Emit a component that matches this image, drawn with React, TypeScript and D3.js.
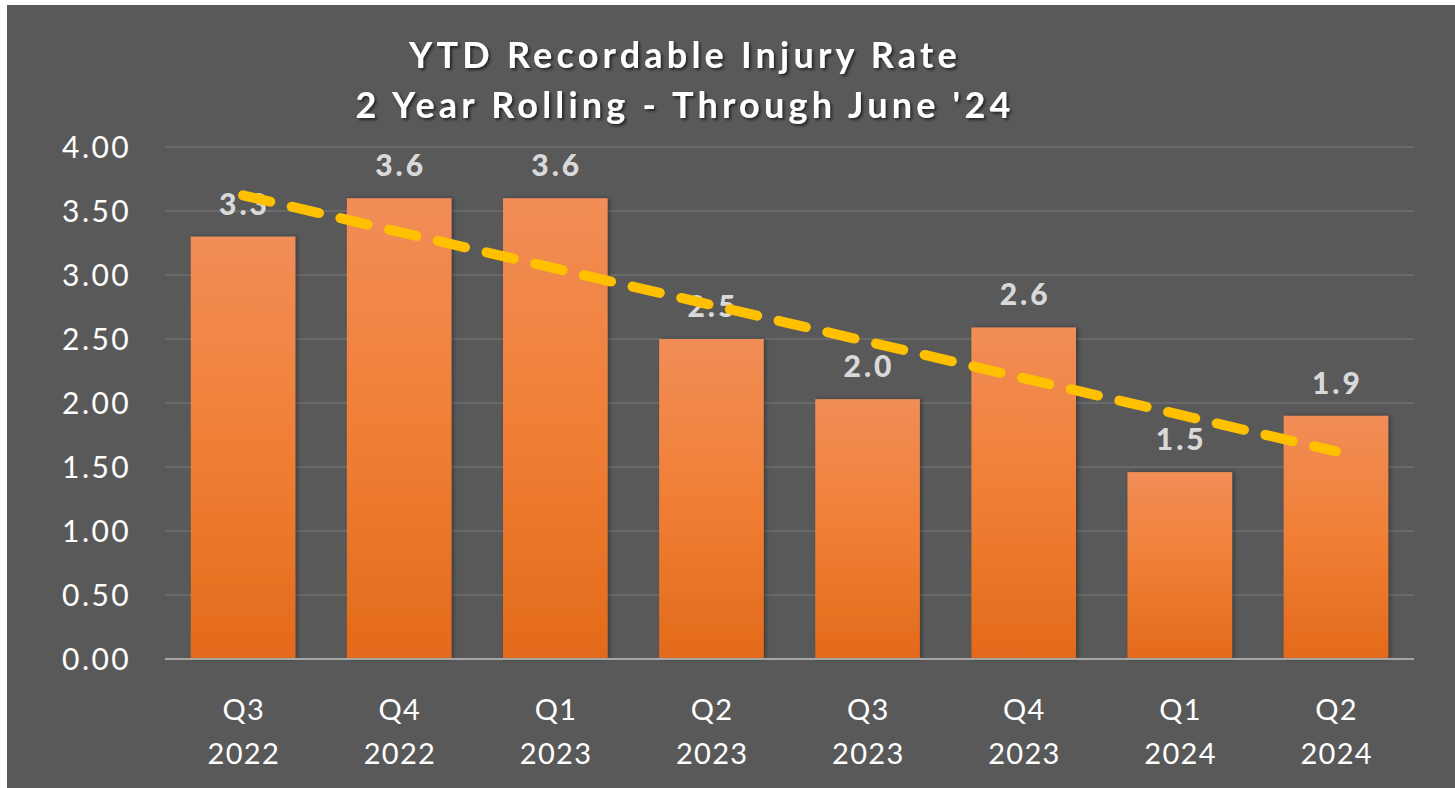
import { useEffect, useRef } from "react";
import * as d3 from "d3";

const quarters = ["Q3", "Q4", "Q1", "Q2", "Q3", "Q4", "Q1", "Q2"];
const years = ["2022", "2022", "2023", "2023", "2023", "2023", "2024", "2024"];
const rates = [3.3, 3.6, 3.6, 2.5, 2.03, 2.59, 1.46, 1.9];
const yTicks = [0, 0.5, 1, 1.5, 2, 2.5, 3, 3.5, 4];
const titleLines = ["YTD Recordable Injury Rate", "2 Year Rolling - Through June '24"];

export default function App() {
  const width = 1455;
  const height = 788;
  const marginTop = 147;
  const marginRight = 41;
  const marginBottom = 129;
  const marginLeft = 165;

  const chart = useRef(null);

  const cats = quarters.map((q, i) => `${q}-${years[i]}-${i}`);

  const x = d3.scaleBand()
    .domain(cats)
    .range([marginLeft, width - marginRight])
    .paddingInner(0.33)
    .paddingOuter(0.165);

  const y = d3.scaleLinear()
    .domain([0, 4])
    .range([height - marginBottom, marginTop]);

  useEffect(() => {
    const svg = d3.select(chart.current);
    svg.selectAll("*").remove();

    const defs = svg.append("defs");
    const grad = defs.append("linearGradient")
      .attr("id", "barGrad")
      .attr("x1", 0).attr("y1", 0).attr("x2", 0).attr("y2", 1);
    grad.append("stop").attr("offset", "0%").attr("stop-color", "#f18d57");
    grad.append("stop").attr("offset", "50%").attr("stop-color", "#f07f35");
    grad.append("stop").attr("offset", "100%").attr("stop-color", "#e36a1a");

    const shadow = defs.append("filter").attr("id", "txtShadow")
      .attr("x", "-10%").attr("y", "-30%").attr("width", "120%").attr("height", "160%");
    shadow.append("feDropShadow")
      .attr("dx", 2).attr("dy", 2).attr("stdDeviation", 1.5)
      .attr("flood-color", "#000").attr("flood-opacity", 0.6);

    const barShadow = defs.append("filter").attr("id", "barShadow")
      .attr("x", "-10%").attr("y", "-10%").attr("width", "130%").attr("height", "120%");
    barShadow.append("feDropShadow")
      .attr("dx", 2).attr("dy", 0).attr("stdDeviation", 2)
      .attr("flood-color", "#000").attr("flood-opacity", 0.35);

    // background
    svg.append("rect").attr("width", width).attr("height", height).attr("fill", "#ffffff");
    svg.append("rect").attr("x", 7).attr("y", 5)
      .attr("width", width - 7).attr("height", height - 5).attr("fill", "#595959");

    // title
    svg.append("g")
      .attr("filter", "url(#txtShadow)")
      .selectAll("text")
      .data(titleLines)
      .join("text")
      .attr("x", 685)
      .attr("y", (d, i) => 68 + i * 50)
      .attr("text-anchor", "middle")
      .attr("fill", "#ffffff")
      .style("font-family", "Lato, 'Open Sans', sans-serif")
      .style("font-weight", "bold")
      .style("font-size", "36px")
      .style("letter-spacing", "4.2px")
      .text(d => d);

    // grid
    const grid = svg.append("g");
    grid.selectAll("line")
      .data(yTicks.filter(t => t > 0))
      .join("line")
      .attr("x1", marginLeft)
      .attr("x2", width - marginRight)
      .attr("y1", d => y(d))
      .attr("y2", d => y(d))
      .attr("stroke", "#707070")
      .attr("stroke-width", 1.5);

    // y tick labels
    svg.append("g")
      .selectAll("text")
      .data(yTicks)
      .join("text")
      .attr("x", 131)
      .attr("y", d => y(d))
      .attr("dy", "0.35em")
      .attr("text-anchor", "end")
      .attr("fill", "#ffffff")
      .style("font-family", "Lato, 'Open Sans', sans-serif")
      .style("font-size", "30px")
      .style("letter-spacing", "2.4px")
      .text(d => d3.format(".2f")(d));

    // bars
    svg.append("g")
      .attr("filter", "url(#barShadow)")
      .selectAll("rect")
      .data(rates)
      .join("rect")
      .attr("x", (d, i) => x(cats[i]))
      .attr("y", d => y(d))
      .attr("width", x.bandwidth())
      .attr("height", d => y(0) - y(d))
      .attr("fill", "url(#barGrad)");

    // baseline axis
    svg.append("line")
      .attr("x1", marginLeft)
      .attr("x2", width - marginRight)
      .attr("y1", y(0))
      .attr("y2", y(0))
      .attr("stroke", "#a6a6a6")
      .attr("stroke-width", 2);

    // data labels
    svg.append("g")
      .selectAll("text")
      .data(rates)
      .join("text")
      .attr("x", (d, i) => x(cats[i]) + x.bandwidth() / 2 + 1.5)
      .attr("y", d => y(d) - 22)
      .attr("text-anchor", "middle")
      .attr("fill", "#d9d9d9")
      .style("font-family", "Lato, 'Open Sans', sans-serif")
      .style("font-weight", "900")
      .style("font-size", "30px")
      .style("letter-spacing", "3px")
      .text(d => d3.format(".1f")(d));

    // linear trend line (least squares over the bars)
    const idx = rates.map((_, i) => i);
    const mx = d3.mean(idx);
    const my = d3.mean(rates);
    const slope = d3.sum(idx, i => (i - mx) * (rates[i] - my)) / d3.sum(idx, i => (i - mx) ** 2);
    const icpt = my - slope * mx;
    const trend = [0, rates.length - 1].map(i => [x(cats[i]) + x.bandwidth() / 2, y(icpt + slope * i)]);
    svg.append("path")
      .attr("d", d3.line()(trend))
      .attr("fill", "none")
      .attr("stroke", "#ffc000")
      .attr("stroke-width", 10)
      .attr("stroke-linecap", "round")
      .attr("stroke-dasharray", "28,22");

    // category labels
    const cl = svg.append("g")
      .selectAll("text")
      .data(cats)
      .join("text")
      .attr("text-anchor", "middle")
      .attr("fill", "#ffffff")
      .style("font-family", "Lato, 'Open Sans', sans-serif")
      .style("font-size", "29px")
      .style("letter-spacing", "1.3px");
    cl.append("tspan")
      .attr("x", d => x(d) + x.bandwidth() / 2 + 0.7)
      .attr("y", 720)
      .text((d, i) => quarters[i]);
    cl.append("tspan")
      .attr("x", d => x(d) + x.bandwidth() / 2 + 0.7)
      .attr("y", 764)
      .text((d, i) => years[i]);
  }, [chart, x, y]);

  return (
    <div>
      <svg ref={chart} width={width} height={height}
        style={{ position: "absolute", left: 0, top: 0 }} />
    </div>
  );
}
